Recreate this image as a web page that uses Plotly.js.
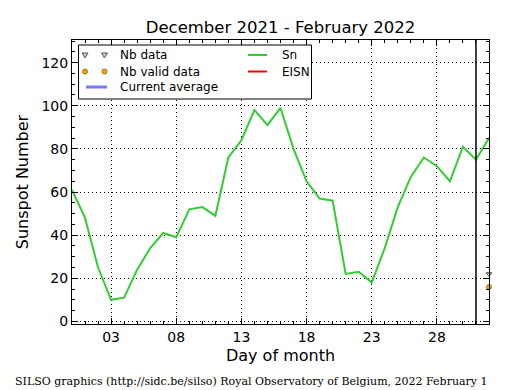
<!DOCTYPE html>
<html>
<head>
<meta charset="utf-8">
<script src="https://cdn.plot.ly/plotly-3.0.1.min.js"></script>
<style>html,body{margin:0;padding:0;background:#fff;}#chart{width:515px;height:390px;}</style>
</head>
<body>
<div id="chart"></div>
<script>
// Days (0 = last day of previous month, up to 1 February)
const days = [0,1,2,3,4,5,6,7,8,9,10,11,12,13,14,15,16,17,18,19,20,21,22,23,24,25,26,27,28,29,30,31,32];
const sn = [61,48,25,10,11,24,34,41,39,52,53,49,76,84,98,91,99,80,65,57,56,22,23,18,34,53,67,76,72,65,81,75,85];
const nbDataDays = [32];
const nbData = [22];
const nbValidDays = [32];
const nbValid = [16];
const tickVals = [3,8,13,18,23,28];
const tickText = ['03','08','13','18','23','28'];
const yTickVals = [0,20,40,60,80,100,120];
const currentDay = 31;
const titleText = 'December 2021 - February 2022';
const footer = 'SILSO graphics (http://sidc.be/silso) Royal Observatory of Belgium, 2022 February 1';
const legendNames = ['Nb data', 'Nb valid data', 'Current average', 'Sn', 'EISN'];

const font = 'DejaVu Sans, sans-serif';
const colors = {sn: '#33cc33', eisn: '#ff0000', avg: '#7777ff', valid: '#ffa500', validEdge: '#8a5a00', nb: '#cccccc', nbEdge: '#555555'};

const traces = [
  {x: days, y: sn, name: 'Sn', mode: 'lines', type: 'scatter', line: {color: colors.sn, width: 2}},
  {x: nbDataDays, y: nbData, name: 'Nb data', mode: 'markers', type: 'scatter',
   marker: {symbol: 'triangle-down', size: 5, color: colors.nb, line: {color: colors.nbEdge, width: 1}}, cliponaxis: false},
  {x: nbValidDays, y: nbValid, name: 'Nb valid data', mode: 'markers', type: 'scatter',
   marker: {symbol: 'circle', size: 5, color: colors.valid, line: {color: colors.validEdge, width: 0.8}}, cliponaxis: false}
];

// ---- legend (drawn manually to match the compact matplotlib legend) ----
const M = {l: 72, r: 26, t: 40, b: 66};
const PW = 515 - M.l - M.r, PH = 390 - M.t - M.b;
const px = v => (v - M.l) / PW;
const py = v => (390 - M.b - v) / PH;
const shapes = [];
const annotations = [];
// box
shapes.push({type: 'rect', xref: 'paper', yref: 'paper', x0: px(78.5), x1: px(311.5), y0: py(45), y1: py(99),
  fillcolor: '#fff', line: {color: '#000', width: 1}, layer: 'above'});
const rowY = [55, 71.5, 87];
const col1Sym = [85, 104.5], col1Text = 118, col2LineX = [248, 267], col2Text = 280;
function triangle(cx, cy) {
  const p = [[cx - 3, cy - 2], [cx + 3, cy - 2], [cx, cy + 3]];
  return 'M' + p.map(q => px(q[0]) + ',' + py(q[1])).join(' L') + ' Z';
}
col1Sym.forEach(cx => {
  shapes.push({type: 'path', xref: 'paper', yref: 'paper', path: triangle(cx, rowY[0]),
    fillcolor: colors.nb, line: {color: colors.nbEdge, width: 1}, layer: 'above'});
  shapes.push({type: 'circle', xref: 'paper', yref: 'paper', x0: px(cx - 2.5), x1: px(cx + 2.5), y0: py(rowY[1] + 2.5), y1: py(rowY[1] - 2.5),
    fillcolor: colors.valid, line: {color: colors.validEdge, width: 0.8}, layer: 'above'});
});
shapes.push({type: 'line', xref: 'paper', yref: 'paper', x0: px(86), x1: px(107), y0: py(rowY[2]), y1: py(rowY[2]),
  line: {color: colors.avg, width: 3}, layer: 'above'});
shapes.push({type: 'line', xref: 'paper', yref: 'paper', x0: px(col2LineX[0]), x1: px(col2LineX[1]), y0: py(rowY[0]), y1: py(rowY[0]),
  line: {color: colors.sn, width: 2}, layer: 'above'});
shapes.push({type: 'line', xref: 'paper', yref: 'paper', x0: px(col2LineX[0]), x1: px(col2LineX[1]), y0: py(rowY[1]), y1: py(rowY[1]),
  line: {color: colors.eisn, width: 2}, layer: 'above'});
const textPos = [[col1Text, rowY[0]], [col1Text, rowY[1]], [col1Text, rowY[2]], [col2Text, rowY[0]], [col2Text, rowY[1]]];
legendNames.forEach((n, i) => {
  annotations.push({text: n, xref: 'paper', yref: 'paper', x: px(textPos[i][0]), y: py(textPos[i][1]),
    xanchor: 'left', yanchor: 'middle', showarrow: false, font: {family: font, size: 12, color: '#000'}});
});

// current-day marker
shapes.push({type: 'line', xref: 'x', yref: 'paper', x0: currentDay, x1: currentDay, y0: 0, y1: 1,
  line: {color: '#000', width: 1.5}});

annotations.push({text: footer, xref: 'paper', yref: 'paper', x: px(251.5), y: py(381),
  xanchor: 'center', yanchor: 'middle', showarrow: false,
  font: {family: 'DejaVu Serif, serif', size: 11, color: '#000'}});

const axisCommon = {
  showline: true, linecolor: '#000', linewidth: 1, mirror: 'allticks',
  ticks: 'inside', ticklen: 6, tickcolor: '#000', tickwidth: 1,
  showgrid: true, gridcolor: '#000', griddash: '1px,3px', gridwidth: 1,
  zeroline: false, tickfont: {family: font, size: 14, color: '#000'}
};

const layout = {
  width: 515, height: 390,
  margin: M,
  paper_bgcolor: '#fff', plot_bgcolor: '#fff',
  font: {family: font, color: '#000'},
  showlegend: false,
  title: {text: titleText, font: {family: font, size: 16.5, color: '#000'},
          xref: 'paper', x: 0.5, xanchor: 'center', yref: 'container', y: 1 - 27/390, yanchor: 'middle'},
  xaxis: Object.assign({}, axisCommon, {
    range: [0, 32], tickvals: tickVals, ticktext: tickText,
    minor: {ticks: 'inside', dtick: 1, tick0: 0, ticklen: 3, tickcolor: '#000', showgrid: false},
    title: {text: 'Day of month', font: {family: font, size: 16, color: '#000'}, standoff: 6}
  }),
  yaxis: Object.assign({}, axisCommon, {
    range: [-1.2, 130.5], tickvals: yTickVals,
    minor: {ticks: 'inside', dtick: 5, tick0: 0, ticklen: 3, tickcolor: '#000', showgrid: false},
    title: {text: 'Sunspot Number', font: {family: font, size: 16, color: '#000'}, standoff: 8}
  }),
  shapes: shapes,
  annotations: annotations
};

Plotly.newPlot('chart', traces, layout, {displayModeBar: false, staticPlot: true});
</script>
</body>
</html>
